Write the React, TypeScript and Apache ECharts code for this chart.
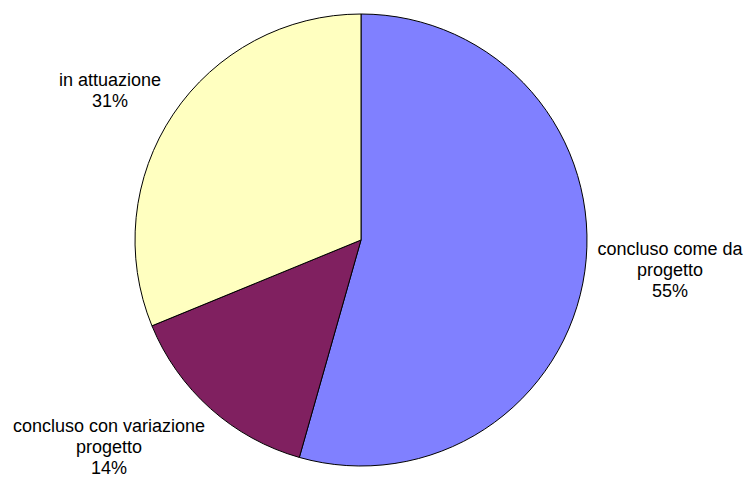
import React, { useEffect, useRef } from "react";
import * as echarts from "echarts";

const categories = ["concluso come da\nprogetto", "concluso con variazione\nprogetto", "in attuazione"];
const values = [54.4, 14.4, 31.2];
const colors = ["#8080FF", "#802060", "#FFFFC0"];

const labelPos = [
  { x: 670, y: 270 },
  { x: 109, y: 447 },
  { x: 110, y: 90 },
];

export default function App() {
  const ref = useRef<HTMLDivElement>(null);
  useEffect(() => {
    if (!ref.current) return;
    const chart = echarts.init(ref.current, null, { renderer: "svg" });
    chart.setOption({
      animation: false,
      backgroundColor: "#ffffff",
      series: [
        {
          type: "pie",
          center: [361, 240],
          radius: [0, 226],
          startAngle: 90,
          clockwise: true,
          percentPrecision: 0,
          avoidLabelOverlap: false,
          data: categories.map((c, i) => ({
            name: c,
            value: values[i],
            itemStyle: { color: colors[i] },
          })),
          itemStyle: { borderColor: "#000000", borderWidth: 1 },
          emphasis: { disabled: true },
          label: {
            show: true,
            position: "outside",
            formatter: "{b}\n{d}%",
            color: "#000000",
            fontFamily: "Liberation Sans, Arial, sans-serif",
            fontSize: 18,
            lineHeight: 21,
            align: "center",
          },
          labelLine: { show: false },
          labelLayout: (params: any) => ({
            x: labelPos[params.dataIndex].x,
            y: labelPos[params.dataIndex].y,
            align: "center",
            verticalAlign: "middle",
          }),
        },
      ],
    });
    return () => chart.dispose();
  }, []);
  return (
    <div
      ref={ref}
      style={{ position: "fixed", left: 0, top: 0, width: 747, height: 479 }}
    />
  );
}
